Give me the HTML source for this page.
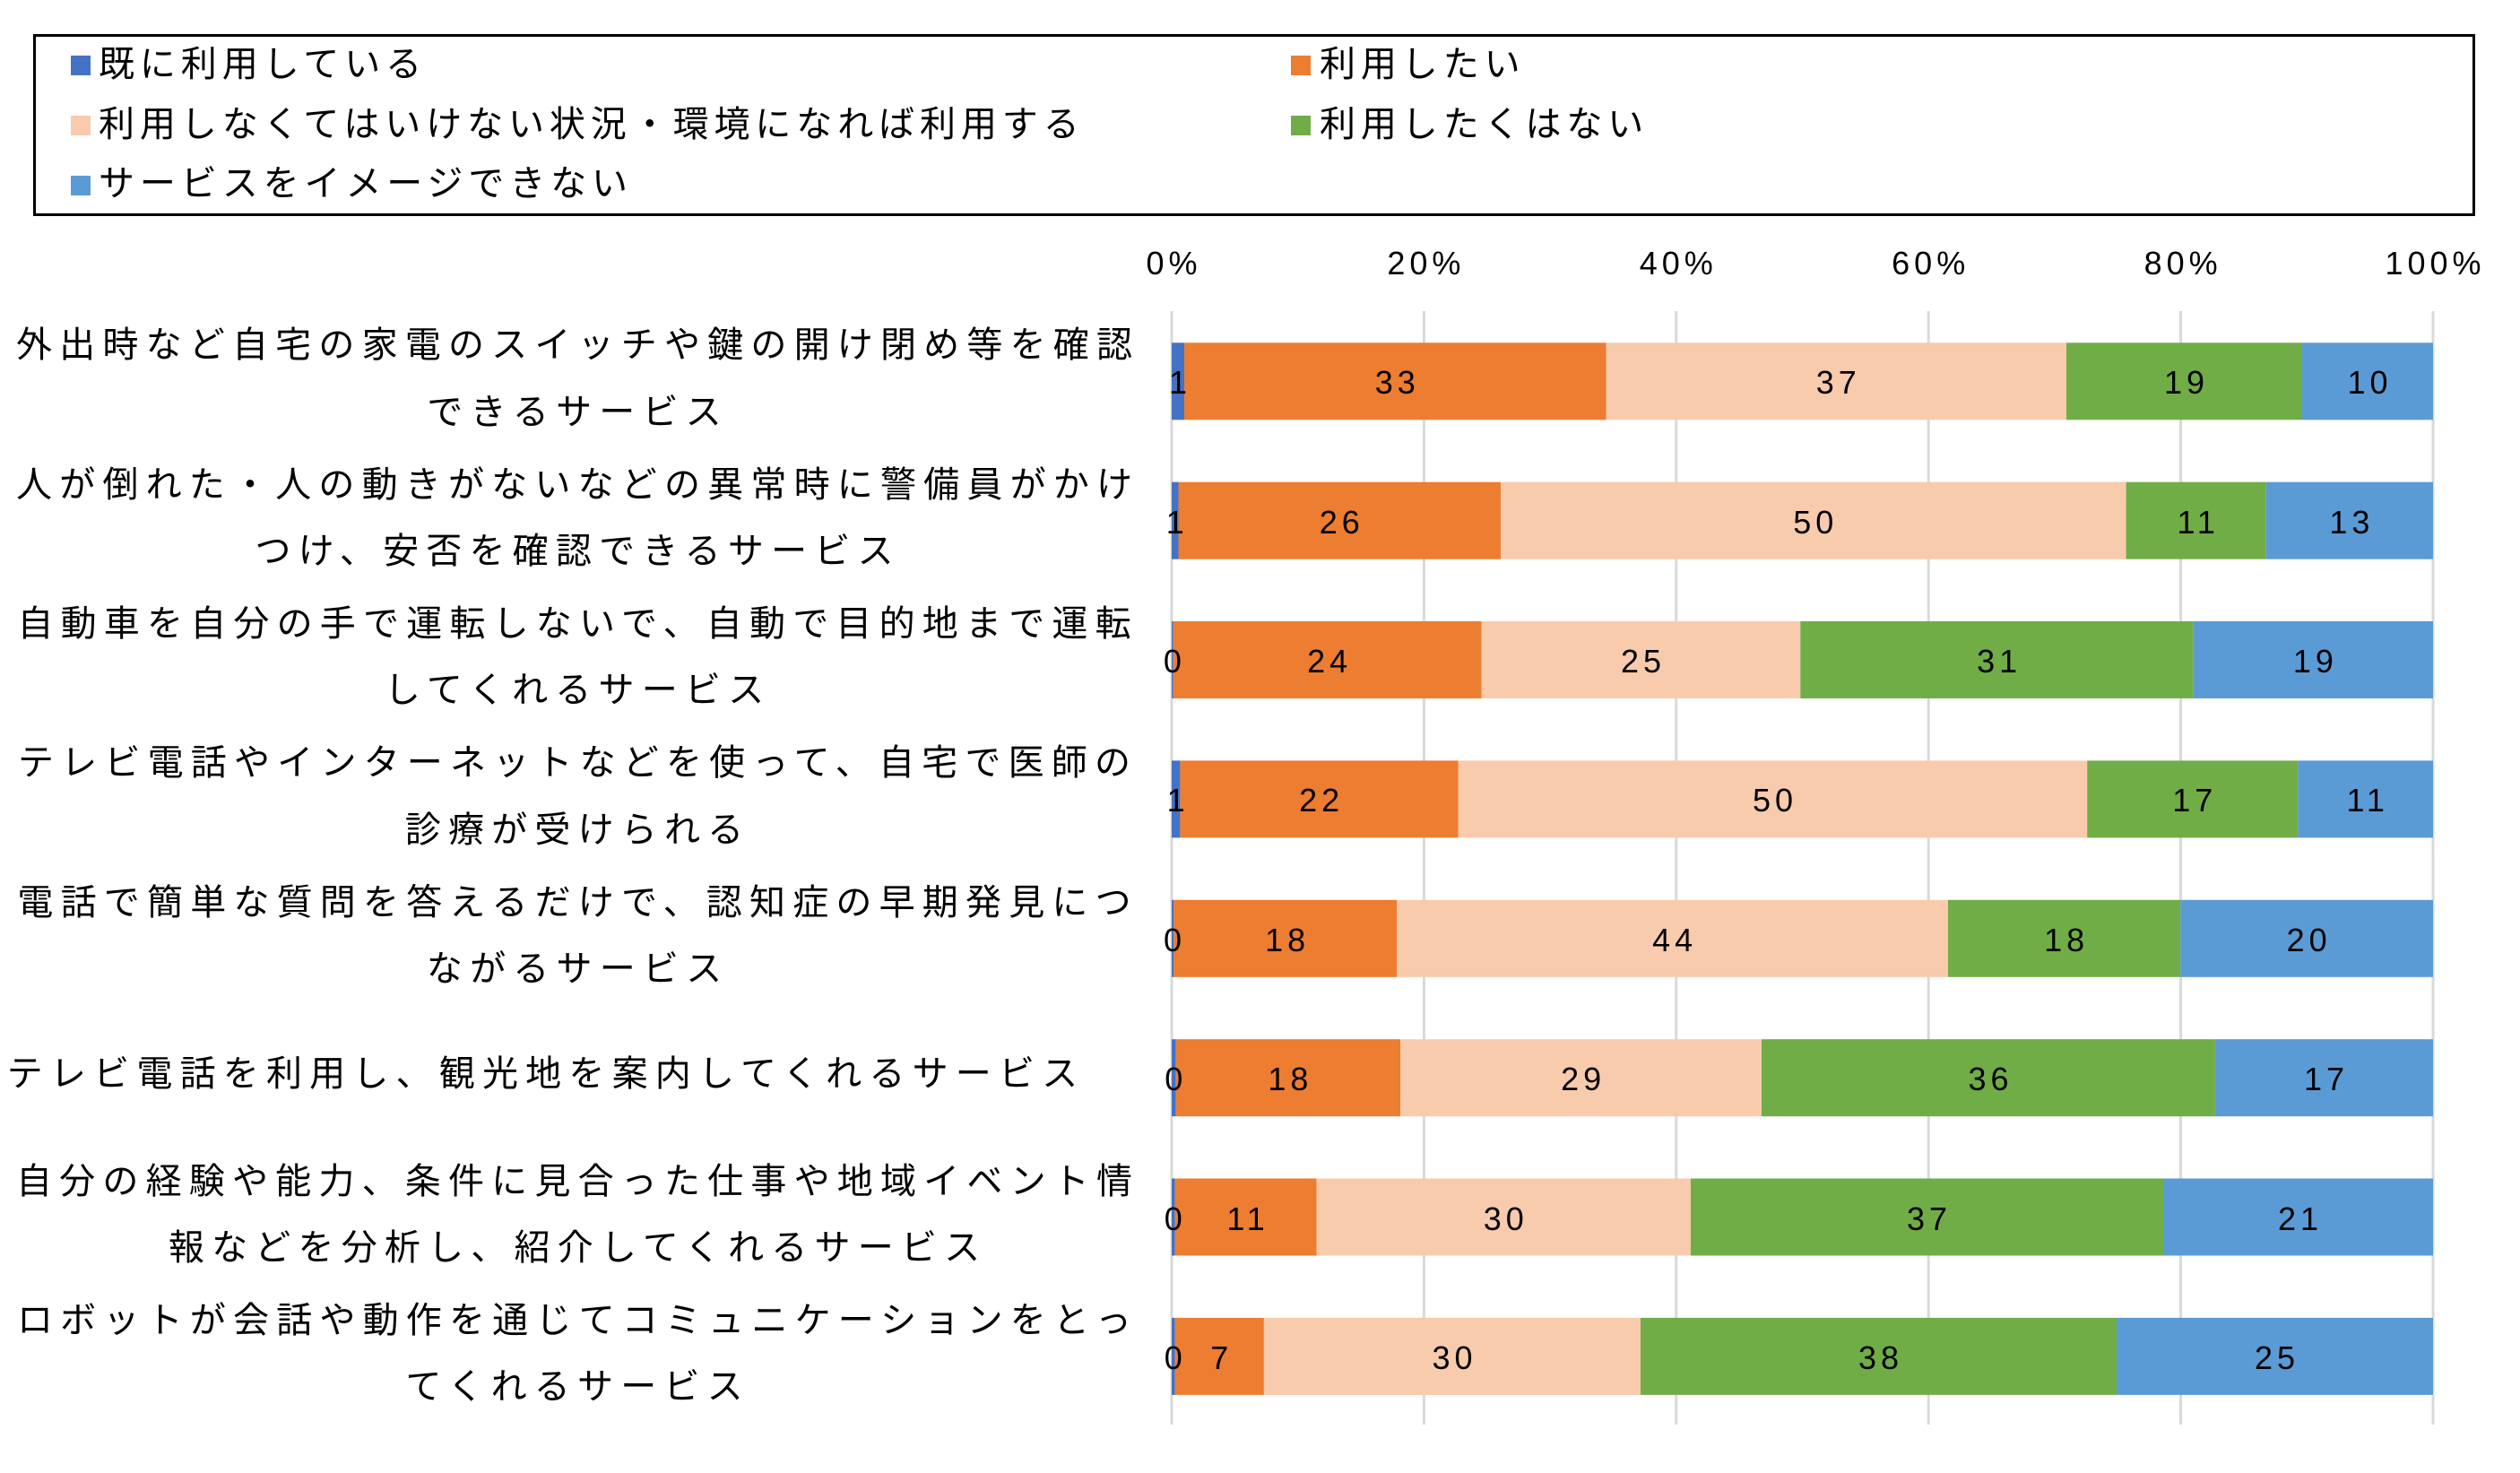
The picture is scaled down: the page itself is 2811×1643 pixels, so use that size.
<!DOCTYPE html>
<html>
<head>
<meta charset="utf-8">
<style>
html,body{margin:0;padding:0;background:#fff;}
body{width:2811px;height:1643px;position:relative;overflow:hidden;}
.jp{position:absolute;font-family:"Liberation Sans","Noto Sans CJK JP",sans-serif;font-size:40px;line-height:40px;height:40px;letter-spacing:8.2px;color:#000;white-space:nowrap;}
.jp span{margin-right:-8.2px;}
.cat{left:0;width:1281px;text-align:center;}
.jp.lg{letter-spacing:5.9px;}
.jp.lg span{margin-right:-5.9px;}
.sq{position:absolute;width:22px;height:22px;}
.num{position:absolute;width:200px;font-family:"Liberation Sans",sans-serif;font-size:36px;line-height:36px;height:36px;text-align:center;letter-spacing:5px;color:#000;white-space:nowrap;}
.num span{margin-right:-5px;}
</style>
</head>
<body>
<!-- Legend box -->
<div style="position:absolute;left:37px;top:38px;width:2724px;height:203px;border:3px solid #000;box-sizing:border-box;"></div>
<div class="sq" style="left:79px;top:62px;background:#4472C4;"></div>
<div class="sq" style="left:79px;top:129px;background:#F8CBAD;"></div>
<div class="sq" style="left:79px;top:196px;background:#5B9BD5;"></div>
<div class="sq" style="left:1440px;top:62px;background:#ED7D31;"></div>
<div class="sq" style="left:1440px;top:129px;background:#70AD47;"></div>
<div class="jp lg" style="left:110px;top:52px;"><span>既に利用している</span></div>
<div class="jp lg" style="left:110px;top:119px;"><span>利用しなくてはいけない状況・環境になれば利用する</span></div>
<div class="jp lg" style="left:110px;top:185px;"><span>サービスをイメージできない</span></div>
<div class="jp lg" style="left:1472px;top:52px;"><span>利用したい</span></div>
<div class="jp lg" style="left:1472px;top:119px;"><span>利用したくはない</span></div>

<!-- Gridlines and bars -->
<svg width="2811" height="1643" style="position:absolute;left:0;top:0;" xmlns="http://www.w3.org/2000/svg">
<g stroke="#D9D9D9" stroke-width="3">
<line x1="1307" y1="347" x2="1307" y2="1589"/>
<line x1="1588.4" y1="347" x2="1588.4" y2="1589"/>
<line x1="1869.8" y1="347" x2="1869.8" y2="1589"/>
<line x1="2151.2" y1="347" x2="2151.2" y2="1589"/>
<line x1="2432.6" y1="347" x2="2432.6" y2="1589"/>
<line x1="2714" y1="347" x2="2714" y2="1589"/>
</g>
<!-- Bar 1 -->
<g>
<rect x="1307" y="382.3" width="14" height="86" fill="#4472C4"/>
<rect x="1321" y="382.3" width="470.5" height="86" fill="#ED7D31"/>
<rect x="1791.5" y="382.3" width="513.5" height="86" fill="#F8CBAD"/>
<rect x="2305" y="382.3" width="263" height="86" fill="#70AD47"/>
<rect x="2568" y="382.3" width="146" height="86" fill="#5B9BD5"/>
</g>
<!-- Bar 2 -->
<g>
<rect x="1307" y="537.7" width="7.5" height="86" fill="#4472C4"/>
<rect x="1314.5" y="537.7" width="359.5" height="86" fill="#ED7D31"/>
<rect x="1674" y="537.7" width="697.6" height="86" fill="#F8CBAD"/>
<rect x="2371.6" y="537.7" width="156.1" height="86" fill="#70AD47"/>
<rect x="2527.7" y="537.7" width="186.3" height="86" fill="#5B9BD5"/>
</g>
<!-- Bar 3 -->
<g>
<rect x="1307" y="693" width="1.7" height="86" fill="#4472C4"/>
<rect x="1308.7" y="693" width="344" height="86" fill="#ED7D31"/>
<rect x="1652.7" y="693" width="355.6" height="86" fill="#F8CBAD"/>
<rect x="2008.3" y="693" width="438.5" height="86" fill="#70AD47"/>
<rect x="2446.8" y="693" width="267.2" height="86" fill="#5B9BD5"/>
</g>
<!-- Bar 4 -->
<g>
<rect x="1307" y="848.4" width="9.4" height="86" fill="#4472C4"/>
<rect x="1316.4" y="848.4" width="310.3" height="86" fill="#ED7D31"/>
<rect x="1626.7" y="848.4" width="701.5" height="86" fill="#F8CBAD"/>
<rect x="2328.2" y="848.4" width="235.2" height="86" fill="#70AD47"/>
<rect x="2563.4" y="848.4" width="150.6" height="86" fill="#5B9BD5"/>
</g>
<!-- Bar 5 -->
<g>
<rect x="1307" y="1003.8" width="2" height="86" fill="#4472C4"/>
<rect x="1309" y="1003.8" width="249.3" height="86" fill="#ED7D31"/>
<rect x="1558.3" y="1003.8" width="614.7" height="86" fill="#F8CBAD"/>
<rect x="2173" y="1003.8" width="259.3" height="86" fill="#70AD47"/>
<rect x="2432.3" y="1003.8" width="281.7" height="86" fill="#5B9BD5"/>
</g>
<!-- Bar 6 -->
<g>
<rect x="1307" y="1159.2" width="4.6" height="86" fill="#4472C4"/>
<rect x="1311.6" y="1159.2" width="250.5" height="86" fill="#ED7D31"/>
<rect x="1562.1" y="1159.2" width="402.9" height="86" fill="#F8CBAD"/>
<rect x="1965" y="1159.2" width="505.9" height="86" fill="#70AD47"/>
<rect x="2470.9" y="1159.2" width="243.1" height="86" fill="#5B9BD5"/>
</g>
<!-- Bar 7 -->
<g>
<rect x="1307" y="1314.5" width="3.6" height="86" fill="#4472C4"/>
<rect x="1310.6" y="1314.5" width="158" height="86" fill="#ED7D31"/>
<rect x="1468.6" y="1314.5" width="417.3" height="86" fill="#F8CBAD"/>
<rect x="1885.9" y="1314.5" width="527.1" height="86" fill="#70AD47"/>
<rect x="2413" y="1314.5" width="301" height="86" fill="#5B9BD5"/>
</g>
<!-- Bar 8 -->
<g>
<rect x="1307" y="1469.9" width="3.6" height="86" fill="#4472C4"/>
<rect x="1310.6" y="1469.9" width="99.3" height="86" fill="#ED7D31"/>
<rect x="1409.9" y="1469.9" width="420.1" height="86" fill="#F8CBAD"/>
<rect x="1830" y="1469.9" width="531" height="86" fill="#70AD47"/>
<rect x="2361" y="1469.9" width="353" height="86" fill="#5B9BD5"/>
</g>
</svg>

<!-- Tick labels -->
<div class="num" style="left:1207px;top:276px;"><span>0%</span></div>
<div class="num" style="left:1488.4px;top:276px;"><span>20%</span></div>
<div class="num" style="left:1769.8px;top:276px;"><span>40%</span></div>
<div class="num" style="left:2051.2px;top:276px;"><span>60%</span></div>
<div class="num" style="left:2332.6px;top:276px;"><span>80%</span></div>
<div class="num" style="left:2614px;top:276px;"><span>100%</span></div>

<!-- Category labels -->
<div class="jp cat" style="top:365.3px;"><span>外出時など自宅の家電のスイッチや鍵の開け閉め等を確認</span></div>
<div class="jp cat" style="top:439.5px;"><span>できるサービス</span></div>
<div class="jp cat" style="top:520.7px;"><span>人が倒れた・人の動きがないなどの異常時に警備員がかけ</span></div>
<div class="jp cat" style="top:594.9px;"><span>つけ、安否を確認できるサービス</span></div>
<div class="jp cat" style="top:676px;"><span>自動車を自分の手で運転しないで、自動で目的地まで運転</span></div>
<div class="jp cat" style="top:750.2px;"><span>してくれるサービス</span></div>
<div class="jp cat" style="top:831.4px;"><span>テレビ電話やインターネットなどを使って、自宅で医師の</span></div>
<div class="jp cat" style="top:905.6px;"><span>診療が受けられる</span></div>
<div class="jp cat" style="top:986.8px;"><span>電話で簡単な質問を答えるだけで、認知症の早期発見につ</span></div>
<div class="jp cat" style="top:1061px;"><span>ながるサービス</span></div>
<div class="jp cat" style="top:1178px;width:1210px;"><span>テレビ電話を利用し、観光地を案内してくれるサービス</span></div>
<div class="jp cat" style="top:1297.5px;"><span>自分の経験や能力、条件に見合った仕事や地域イベント情</span></div>
<div class="jp cat" style="top:1371.7px;"><span>報などを分析し、紹介してくれるサービス</span></div>
<div class="jp cat" style="top:1452.9px;"><span>ロボットが会話や動作を通じてコミュニケーションをとっ</span></div>
<div class="jp cat" style="top:1527px;"><span>てくれるサービス</span></div>

<!-- Data labels bar 1 -->
<div class="num" style="left:1214px;top:409.3px;"><span>1</span></div>
<div class="num" style="left:1456.3px;top:409.3px;"><span>33</span></div>
<div class="num" style="left:1948.3px;top:409.3px;"><span>37</span></div>
<div class="num" style="left:2336.5px;top:409.3px;"><span>19</span></div>
<div class="num" style="left:2541px;top:409.3px;"><span>10</span></div>
<!-- bar 2 -->
<div class="num" style="left:1210.8px;top:564.7px;"><span>1</span></div>
<div class="num" style="left:1394.3px;top:564.7px;"><span>26</span></div>
<div class="num" style="left:1922.8px;top:564.7px;"><span>50</span></div>
<div class="num" style="left:2349.7px;top:564.7px;"><span>11</span></div>
<div class="num" style="left:2520.9px;top:564.7px;"><span>13</span></div>
<!-- bar 3 -->
<div class="num" style="left:1207.9px;top:720px;"><span>0</span></div>
<div class="num" style="left:1380.7px;top:720px;"><span>24</span></div>
<div class="num" style="left:1730.5px;top:720px;"><span>25</span></div>
<div class="num" style="left:2127.6px;top:720px;"><span>31</span></div>
<div class="num" style="left:2480.4px;top:720px;"><span>19</span></div>
<!-- bar 4 -->
<div class="num" style="left:1211.7px;top:875.4px;"><span>1</span></div>
<div class="num" style="left:1371.6px;top:875.4px;"><span>22</span></div>
<div class="num" style="left:1877.5px;top:875.4px;"><span>50</span></div>
<div class="num" style="left:2345.8px;top:875.4px;"><span>17</span></div>
<div class="num" style="left:2538.7px;top:875.4px;"><span>11</span></div>
<!-- bar 5 -->
<div class="num" style="left:1208px;top:1030.8px;"><span>0</span></div>
<div class="num" style="left:1333.7px;top:1030.8px;"><span>18</span></div>
<div class="num" style="left:1765.7px;top:1030.8px;"><span>44</span></div>
<div class="num" style="left:2202.7px;top:1030.8px;"><span>18</span></div>
<div class="num" style="left:2473.2px;top:1030.8px;"><span>20</span></div>
<!-- bar 6 -->
<div class="num" style="left:1209.3px;top:1186.2px;"><span>0</span></div>
<div class="num" style="left:1336.9px;top:1186.2px;"><span>18</span></div>
<div class="num" style="left:1663.6px;top:1186.2px;"><span>29</span></div>
<div class="num" style="left:2118px;top:1186.2px;"><span>36</span></div>
<div class="num" style="left:2492.5px;top:1186.2px;"><span>17</span></div>
<!-- bar 7 -->
<div class="num" style="left:1208.8px;top:1341.5px;"><span>0</span></div>
<div class="num" style="left:1289.6px;top:1341.5px;"><span>11</span></div>
<div class="num" style="left:1577.3px;top:1341.5px;"><span>30</span></div>
<div class="num" style="left:2049.5px;top:1341.5px;"><span>37</span></div>
<div class="num" style="left:2463.5px;top:1341.5px;"><span>21</span></div>
<!-- bar 8 -->
<div class="num" style="left:1208.8px;top:1496.9px;"><span>0</span></div>
<div class="num" style="left:1260.3px;top:1496.9px;"><span>7</span></div>
<div class="num" style="left:1520px;top:1496.9px;"><span>30</span></div>
<div class="num" style="left:1995.5px;top:1496.9px;"><span>38</span></div>
<div class="num" style="left:2437.5px;top:1496.9px;"><span>25</span></div>
</body>
</html>
